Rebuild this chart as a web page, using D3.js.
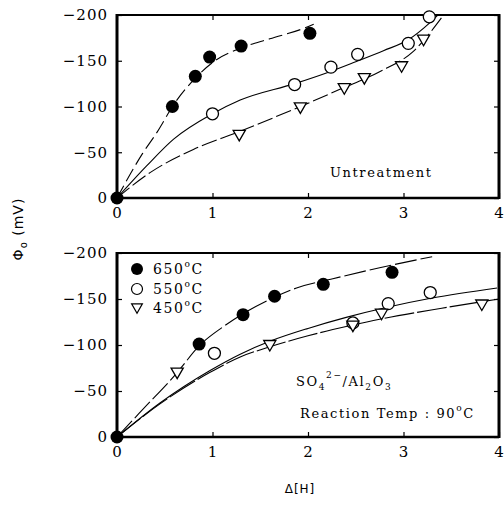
<!DOCTYPE html>
<html>
<head>
<meta charset="utf-8">
<script src="https://cdn.jsdelivr.net/npm/d3@7"></script>
<style>
  body { margin: 0; background: #fff; }
  svg { display: block; }
</style>
</head>
<body>
<script>
// tick values
const xTicks = [0, 1, 2, 3, 4];
const yTicks = [0, -50, -100, -150, -200];
const seriesNames = ["650", "550", "450"];

// measured points, upper panel (Untreatment)
const top650 = [[0, 0], [0.58, -100], [0.82, -133], [0.97, -154], [1.3, -166], [2.02, -180]];
const top550 = [[1.0, -92], [1.86, -124], [2.24, -143], [2.52, -157], [3.05, -169], [3.27, -198]];
const top450 = [[1.28, -69], [1.92, -99], [2.38, -120], [2.59, -131], [2.98, -144], [3.21, -173]];

// fitted curves drawn in the upper panel
const topFit650 = [[0, 0], [0.27, -49], [0.42, -72], [0.6, -103], [0.82, -131], [1.0, -148], [1.3, -164], [1.6, -174], [1.97, -186], [2.06, -190]];
const topFit550 = [[0, 0], [0.31, -35], [0.59, -64], [1.0, -92], [1.29, -107], [1.86, -125], [2.2, -137], [2.5, -149], [2.79, -161], [3.05, -173], [3.28, -192], [3.36, -200]];
const topFit450 = [[0, 0], [0.35, -28], [0.8, -53], [1.29, -73], [1.92, -100], [2.34, -119], [2.75, -138], [3.1, -160], [3.42, -200]];

// measured points, lower panel (SO4/Al2O3)
const bot650 = [[0, 0], [0.86, -101], [1.32, -133], [1.65, -153], [2.16, -166], [2.88, -179]];
const bot550 = [[1.02, -91], [2.47, -124], [2.84, -145], [3.28, -157]];
const bot450 = [[0.63, -70], [1.6, -100], [2.47, -121], [2.77, -134], [3.82, -144]];

// fitted curves drawn in the lower panel
const botFit650 = [[0, 0], [0.27, -30], [0.63, -70], [0.86, -99], [1.1, -119], [1.32, -134], [1.65, -152], [1.88, -162], [2.26, -172], [2.75, -184], [3.3, -196]];
const botFit550 = [[0, 0], [0.45, -37], [0.97, -72], [1.29, -90], [1.6, -104], [2.0, -118], [2.4, -130], [2.83, -141], [3.3, -151], [3.98, -162]];
const botFit450 = [[0, 0], [0.45, -36], [0.97, -70], [1.29, -87], [1.6, -98], [2.0, -110], [2.44, -121], [2.75, -128], [3.4, -140], [4.0, -150]];

const serif = "'DejaVu Serif', 'Liberation Serif', serif";
const svg = d3.select("body").append("svg")
  .attr("width", 504)
  .attr("height", 505);

const x = d3.scaleLinear().domain([0, 4]).range([117, 499]);

function panel(y, pts, fits, dashes, id) {
  const left = x(0), right = x(4), top = y(-200), bottom = y(0);

  svg.append("clipPath").attr("id", id)
    .append("rect")
    .attr("x", left).attr("y", top)
    .attr("width", right - left).attr("height", bottom - top);

  const fmt = d3.format("d");

  const bx = svg.append("g")
    .attr("transform", "translate(0," + bottom + ")")
    .call(d3.axisBottom(x).tickValues(xTicks).tickSize(-5).tickPadding(9).tickFormat(fmt));
  const ly = svg.append("g")
    .attr("transform", "translate(" + left + ",0)")
    .call(d3.axisLeft(y).tickValues(yTicks).tickSize(-5).tickPadding(9).tickFormat(fmt));
  svg.append("g")
    .attr("transform", "translate(0," + top + ")")
    .call(d3.axisTop(x).tickValues(xTicks).tickSize(-5).tickFormat(""));
  svg.append("g")
    .attr("transform", "translate(" + right + ",0)")
    .call(d3.axisRight(y).tickValues(yTicks).tickSize(-5).tickFormat(""));

  svg.selectAll(".domain").remove();
  svg.selectAll(".tick line").attr("stroke", "#000").attr("stroke-width", 1.2);
  [bx, ly].forEach(function (g) {
    g.attr("font-family", null).attr("font-size", null);
    g.selectAll("text")
      .attr("font-family", serif)
      .attr("font-size", 15)
      .attr("letter-spacing", 1)
      .attr("fill", "#000");
  });

  // frame
  svg.append("line").attr("x1", left).attr("x2", right).attr("y1", top).attr("y2", top)
    .attr("stroke", "#000").attr("stroke-width", 2);
  svg.append("line").attr("x1", left).attr("x2", right).attr("y1", bottom).attr("y2", bottom)
    .attr("stroke", "#000").attr("stroke-width", 2.5);
  svg.append("line").attr("x1", left).attr("x2", left).attr("y1", top - 1).attr("y2", bottom + 1)
    .attr("stroke", "#000").attr("stroke-width", 3);
  svg.append("line").attr("x1", right).attr("x2", right).attr("y1", top - 1).attr("y2", bottom + 1)
    .attr("stroke", "#000").attr("stroke-width", 3);

  const line = d3.line()
    .x(function (d) { return x(d[0]); })
    .y(function (d) { return y(d[1]); })
    .curve(d3.curveMonotoneX);

  const curves = svg.append("g").attr("clip-path", "url(#" + id + ")");
  fits.forEach(function (f, i) {
    curves.append("path")
      .attr("d", line(f))
      .attr("fill", "none")
      .attr("stroke", "#000")
      .attr("stroke-width", 1.1)
      .attr("stroke-dasharray", dashes[i]);
  });

  const tri = d3.symbol(d3.symbolTriangle, 64);

  svg.append("g").selectAll("circle")
    .data(pts[0]).enter()
    .append("circle")
    .attr("cx", function (d) { return x(d[0]); })
    .attr("cy", function (d) { return y(d[1]); })
    .attr("r", 6.5)
    .attr("fill", "#000");

  svg.append("g").selectAll("circle")
    .data(pts[1]).enter()
    .append("circle")
    .attr("cx", function (d) { return x(d[0]); })
    .attr("cy", function (d) { return y(d[1]); })
    .attr("r", 6)
    .attr("fill", "#fff")
    .attr("stroke", "#000")
    .attr("stroke-width", 1.3);

  svg.append("g").selectAll("path")
    .data(pts[2]).enter()
    .append("path")
    .attr("d", tri)
    .attr("transform", function (d) {
      return "translate(" + x(d[0]) + "," + (y(d[1]) - 1) + ") rotate(180)";
    })
    .attr("fill", "#fff")
    .attr("stroke", "#000")
    .attr("stroke-width", 1.3);
}

const yTop = d3.scaleLinear().domain([0, -200]).range([198, 15]);
const yBot = d3.scaleLinear().domain([0, -200]).range([437, 253]);

panel(yTop, [top650, top550, top450], [topFit650, topFit550, topFit450],
  ["14,5", null, "16,4"], "clipTop");
panel(yBot, [bot650, bot550, bot450], [botFit650, botFit550, botFit450],
  ["22,4", null, "30,3"], "clipBot");

// annotation texts
function label(xp, yp) {
  return svg.append("text")
    .attr("x", xp).attr("y", yp)
    .attr("font-family", serif)
    .attr("font-size", 13)
    .attr("letter-spacing", 1.6)
    .attr("fill", "#000");
}

label(330, 177).text("Untreatment");

const so = label(296, 386);
so.append("tspan").text("SO");
so.append("tspan").attr("font-size", 9).attr("dy", 4).text("4");
so.append("tspan").attr("font-size", 9).attr("dy", -12).text("2−");
so.append("tspan").attr("dy", 8).text("/Al");
so.append("tspan").attr("font-size", 9).attr("dy", 4).text("2");
so.append("tspan").attr("dy", -4).text("O");
so.append("tspan").attr("font-size", 9).attr("dy", 4).text("3");

const rt = label(300, 418);
rt.append("tspan").text("Reaction Temp  : 90");
rt.append("tspan").attr("font-size", 9).attr("dy", -7).text("o");
rt.append("tspan").attr("dy", 7).text("C");

// legend
const legY = [274, 294, 313];
const leg = svg.append("g");
seriesNames.forEach(function (s, i) {
  const cy = legY[i] - 5;
  if (i === 0) {
    leg.append("circle").attr("cx", 137).attr("cy", cy).attr("r", 6).attr("fill", "#000");
  } else if (i === 1) {
    leg.append("circle").attr("cx", 137).attr("cy", cy).attr("r", 5.5)
      .attr("fill", "#fff").attr("stroke", "#000").attr("stroke-width", 1.2);
  } else {
    leg.append("path").attr("d", d3.symbol(d3.symbolTriangle, 50))
      .attr("transform", "translate(137," + (cy - 1) + ") rotate(180)")
      .attr("fill", "#fff").attr("stroke", "#000").attr("stroke-width", 1.2);
  }
  const t = label(153, legY[i]);
  t.attr("font-size", 14);
  t.append("tspan").text(s);
  t.append("tspan").attr("font-size", 9).attr("dy", -7).text("o");
  t.append("tspan").attr("dy", 7).text("C");
});

// axis titles
const yl = svg.append("text")
  .attr("transform", "translate(23,229) rotate(-90)")
  .attr("text-anchor", "middle")
  .attr("font-family", "'DejaVu Sans', sans-serif")
  .attr("font-size", 14)
  .attr("letter-spacing", 1)
  .attr("fill", "#000");
yl.append("tspan").text("Φ");
yl.append("tspan").attr("font-size", 10).attr("dy", 4).text("o");
yl.append("tspan").attr("dy", -4).text(" (mV)");

svg.append("text")
  .attr("x", 300).attr("y", 493)
  .attr("text-anchor", "middle")
  .attr("font-family", "'DejaVu Sans', sans-serif")
  .attr("font-size", 12)
  .attr("letter-spacing", 1)
  .attr("fill", "#000")
  .text("Δ[H]");
</script>
</body>
</html>
